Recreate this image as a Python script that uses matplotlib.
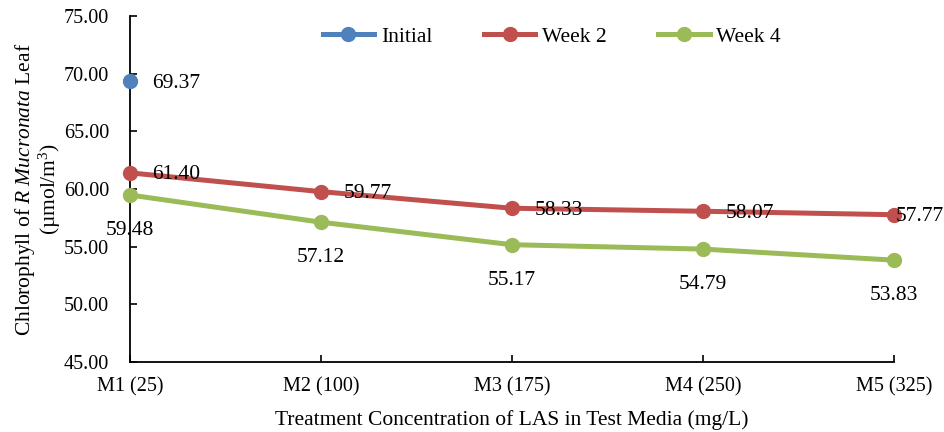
import matplotlib
matplotlib.use("Agg")
import matplotlib.pyplot as plt
import numpy as np

plt.rcParams['font.family'] = ['Liberation Serif', 'DejaVu Serif']
plt.rcParams['mathtext.fontset'] = 'custom'
plt.rcParams['mathtext.rm'] = 'Liberation Serif'
plt.rcParams['mathtext.it'] = 'Liberation Serif:italic'

categories = ['M1 (25)', 'M2 (100)', 'M3 (175)', 'M4 (250)', 'M5 (325)']
initial = [69.37, np.nan, np.nan, np.nan, np.nan]
week2 = [61.40, 59.77, 58.33, 58.07, 57.77]
week4 = [59.48, 57.12, 55.17, 54.79, 53.83]

blue = '#4F81BD'
red = '#C0504D'
green = '#9BBB59'
fs_tick = 14.5
fs = 15.5

fig = plt.figure(figsize=(9.44, 4.32), dpi=100)
ax = fig.add_axes([130 / 944, 1 - 362 / 432, (894 - 130) / 944, (362 - 16) / 432])

x = np.arange(len(categories))
ax.plot(x, initial, color=blue, lw=3.6, marker='o', ms=10, label='Initial', clip_on=False, zorder=3)
ax.plot(x, week2, color=red, lw=3.6, marker='o', ms=10, label='Week 2', clip_on=False, zorder=3)
ax.plot(x, week4, color=green, lw=3.6, marker='o', ms=10, label='Week 4', clip_on=False, zorder=3)

# data labels
ax.annotate(f'{initial[0]:.2f}', (x[0], initial[0]), xytext=(16, -1.5), textcoords='offset points',
            ha='left', va='center', fontsize=fs)
for i, v in enumerate(week2):
    dx = 16 if i < len(week2) - 1 else 1
    ax.annotate(f'{v:.2f}', (x[i], v), xytext=(dx, -1.5), textcoords='offset points',
                ha='left', va='center', fontsize=fs)
for i, v in enumerate(week4):
    ax.annotate(f'{v:.2f}', (x[i], v), xytext=(0, -25.5), textcoords='offset points',
                ha='center', va='center', fontsize=fs)

ax.set_xlim(0, 4)
ax.set_ylim(45, 75)
ax.set_xticks(x)
ax.set_xticklabels(categories)
ax.set_yticks(np.arange(45, 76, 5))
ax.set_yticklabels([f'{t:.2f}' for t in np.arange(45, 76, 5)])
ax.tick_params(axis='both', direction='in', length=5, width=1.2, labelsize=fs_tick)
ax.tick_params(axis='y', pad=15)
ax.tick_params(axis='x', pad=11)
for s in ['top', 'right']:
    ax.spines[s].set_visible(False)
for s in ['left', 'bottom']:
    ax.spines[s].set_linewidth(1.3)

ax.set_xlabel('Treatment Concentration of LAS in Test Media (mg/L)', fontsize=fs)
ax.xaxis.set_label_coords(0.5, -0.14)
ax.set_ylabel('Chlorophyll of $R\\ Mucronata$ Leaf\n(µmol/m$^3$)', fontsize=fs, linespacing=1.0)
ax.yaxis.set_label_coords(-0.088, 0.5)

ax.legend(loc='center', bbox_to_anchor=(0.552, 0.94), ncol=3, frameon=False,
          fontsize=fs, handlelength=2.4, columnspacing=2.4, handletextpad=0.3)

fig.savefig('out.png', dpi=100)
